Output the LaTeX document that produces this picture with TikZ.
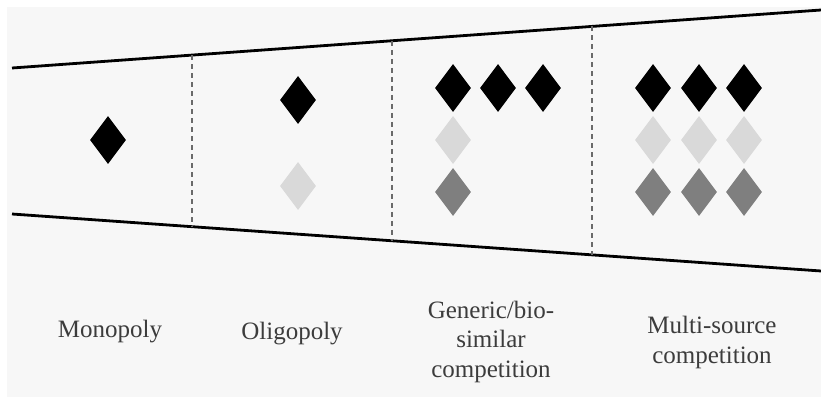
\documentclass[tikz,border=0pt]{standalone}
\usepackage{fontspec}
\setmainfont{Liberation Serif}
\usetikzlibrary{shapes.geometric,calc}
\definecolor{panel}{HTML}{F7F7F7}
\definecolor{lightd}{HTML}{D9D9D9}
\definecolor{darkd}{HTML}{7F7F7F}
\definecolor{txt}{HTML}{3C3C3C}
\definecolor{sepgray}{HTML}{6A6A6A}
\tikzset{
  dia/.style={diamond, shape aspect=0.75, minimum width=36pt, minimum height=48pt, inner sep=0pt, draw=none},
  blk/.style={dia, fill=black},
  lgt/.style={dia, fill=lightd},
  drk/.style={dia, fill=darkd},
  lbl/.style={align=center, text=txt, font=\fontsize{25}{29.5}\selectfont, inner sep=0pt},
  bound/.style={line width=2.8pt, black},
  sep/.style={draw=sepgray, line width=1.2pt, dash pattern=on 5pt off 4pt}
}
\begin{document}
\begin{tikzpicture}[x=1pt,y=-1pt]
\useasboundingbox (0,0) rectangle (821,399);
\fill[white] (0,0) rectangle (821,399);
\fill[panel] (7,7) rectangle (821,397);
% boundary lines
\coordinate (tl) at (12,68);
\coordinate (tr) at (821,10);
\coordinate (bl) at (12,214);
\coordinate (br) at (821,271);
\draw[bound] (tl) -- (tr);
\draw[bound] (bl) -- (br);
% dashed separators
\foreach \x/\n in {192/a,392/b,592/c}{
  \coordinate (s\n t) at ($(tl)!{(\x-12)/809}!(tr)$);
  \coordinate (s\n b) at ($(bl)!{(\x-12)/809}!(br)$);
  \draw[sep] (s\n t) -- (s\n b);
}
% monopoly
\node[blk] (m1) at (108,140) {};
% oligopoly
\node[blk] (o1) at (298,100) {};
\node[lgt] (o2) at (298,186) {};
% generic
\node[blk] (g1) at (453,88) {};
\node[blk] (g2) at (498,88) {};
\node[blk] (g3) at (543,88) {};
\node[lgt] (g4) at (453,140) {};
\node[drk] (g5) at (453,192) {};
% multi-source
\foreach \x/\i in {653/1,699/2,744/3}{
  \node[blk] (ms\i a) at (\x,88) {};
  \node[lgt] (ms\i b) at (\x,140) {};
  \node[drk] (ms\i c) at (\x,192) {};
}
% labels
\node[lbl, anchor=base] (l1) at (110,337) {Monopoly};
\node[lbl, anchor=base] (l2) at (292,339) {Oligopoly};
\node[lbl, anchor=base] (l3) at (491,377) {Generic/bio-\\similar\\competition};
\node[lbl, anchor=base] (l4) at (712,363) {Multi-source\\competition};
\end{tikzpicture}
\end{document}
